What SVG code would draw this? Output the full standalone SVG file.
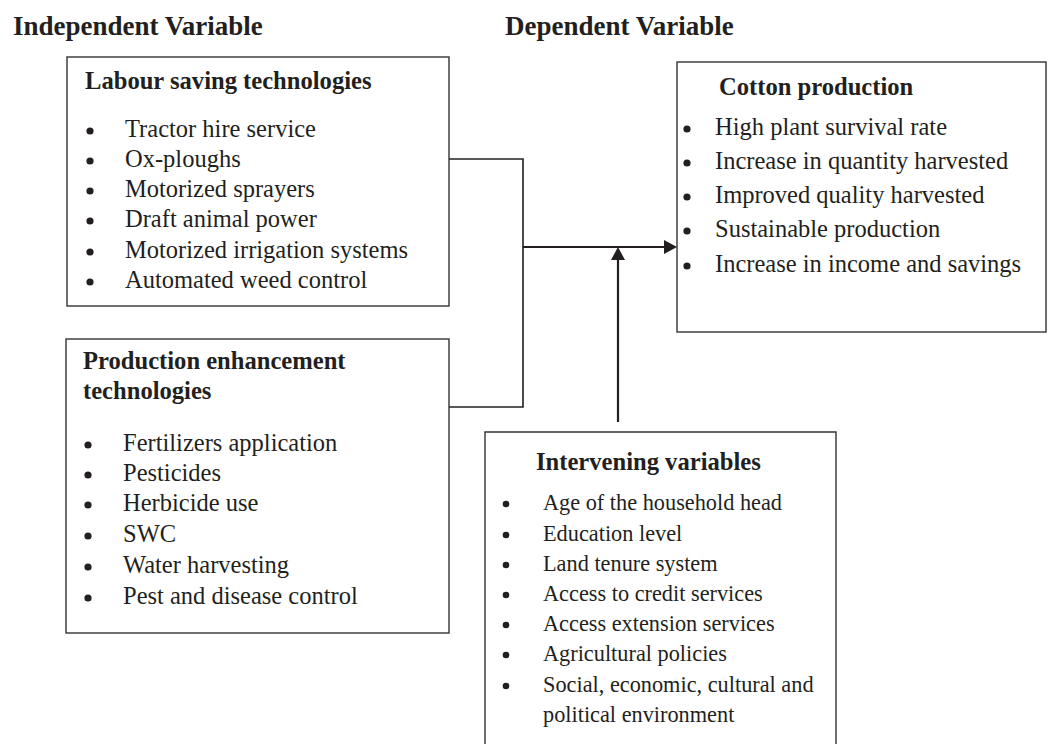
<svg xmlns="http://www.w3.org/2000/svg" width="1048" height="744" viewBox="0 0 1048 744">
<style>
text{font-family:"Liberation Serif","Times New Roman",serif;fill:#231f20}
.h{font-size:27px;font-weight:bold}
.t{font-size:24.6px;font-weight:bold}
.b{font-size:24.5px}
.s{font-size:22.3px}
.box{fill:#fff;stroke:#333;stroke-width:1.4}
.dot{fill:#231f20}
.ln{fill:none;stroke:#231f20;stroke-width:1.6}
.ar{fill:none;stroke:#231f20;stroke-width:2.2}
.hd{fill:#231f20}
</style>
<rect width="1048" height="744" fill="#fff"/>
<g id="headers">
<text class="h" x="13" y="35">Independent Variable</text>
<text class="h" x="505" y="35">Dependent Variable</text>
</g>
<g id="labour">
<rect class="box" x="67" y="57" width="382" height="249"/>
<text class="t" x="85" y="89">Labour saving technologies</text>
<g class="dot">
<circle cx="90" cy="131" r="3.6"/><circle cx="90" cy="161" r="3.6"/><circle cx="90" cy="191" r="3.6"/><circle cx="90" cy="221" r="3.6"/><circle cx="90" cy="252" r="3.6"/><circle cx="90" cy="282" r="3.6"/>
</g>
<text class="b" x="125" y="137">Tractor hire service</text>
<text class="b" x="125" y="167">Ox-ploughs</text>
<text class="b" x="125" y="197">Motorized sprayers</text>
<text class="b" x="125" y="227">Draft animal power</text>
<text class="b" x="125" y="258">Motorized irrigation systems</text>
<text class="b" x="125" y="288">Automated weed control</text>
</g>
<g id="production">
<rect class="box" x="66" y="339" width="383" height="294"/>
<text class="t" x="83" y="369">Production enhancement</text>
<text class="t" x="83" y="399">technologies</text>
<g class="dot">
<circle cx="88" cy="445" r="3.6"/><circle cx="88" cy="475" r="3.6"/><circle cx="88" cy="505" r="3.6"/><circle cx="88" cy="536" r="3.6"/><circle cx="88" cy="567" r="3.6"/><circle cx="88" cy="598" r="3.6"/>
</g>
<text class="b" x="123" y="451">Fertilizers application</text>
<text class="b" x="123" y="481">Pesticides</text>
<text class="b" x="123" y="511">Herbicide use</text>
<text class="b" x="123" y="542">SWC</text>
<text class="b" x="123" y="573">Water harvesting</text>
<text class="b" x="123" y="604">Pest and disease control</text>
</g>
<g id="cotton">
<rect class="box" x="677" y="62" width="369" height="270"/>
<text class="t" x="719" y="95">Cotton production</text>
<g class="dot">
<circle cx="687" cy="129" r="3.6"/><circle cx="687" cy="163" r="3.6"/><circle cx="687" cy="197" r="3.6"/><circle cx="687" cy="231" r="3.6"/><circle cx="687" cy="266" r="3.6"/>
</g>
<text class="b" x="715" y="135">High plant survival rate</text>
<text class="b" x="715" y="169">Increase in quantity harvested</text>
<text class="b" x="715" y="203">Improved quality harvested</text>
<text class="b" x="715" y="237">Sustainable production</text>
<text class="b" x="715" y="272">Increase in income and savings</text>
</g>
<g id="intervening">
<path class="box" d="M485,750 V432 H836 V750"/>
<text class="t" x="536" y="470">Intervening variables</text>
<g class="dot">
<circle cx="506" cy="504" r="3.3"/><circle cx="506" cy="535" r="3.3"/><circle cx="506" cy="565" r="3.3"/><circle cx="506" cy="595" r="3.3"/><circle cx="506" cy="625" r="3.3"/><circle cx="506" cy="655" r="3.3"/><circle cx="506" cy="686" r="3.3"/>
</g>
<text class="s" x="543" y="510">Age of the household head</text>
<text class="s" x="543" y="541">Education level</text>
<text class="s" x="543" y="571">Land tenure system</text>
<text class="s" x="543" y="601">Access to credit services</text>
<text class="s" x="543" y="631">Access extension services</text>
<text class="s" x="543" y="661">Agricultural policies</text>
<text class="s" x="543" y="692">Social, economic, cultural and</text>
<text class="s" x="543" y="722">political environment</text>
</g>
<g id="connectors">
<path class="ln" d="M449,159 H523 V407 H449"/>
<path class="ar" d="M523,247 H665"/>
<path class="hd" d="M677,247 L664,240 L664,254 Z"/>
<path class="ar" d="M618,422 V259"/>
<path class="hd" d="M618,247 L611,260 L625,260 Z"/>
</g>
</svg>
